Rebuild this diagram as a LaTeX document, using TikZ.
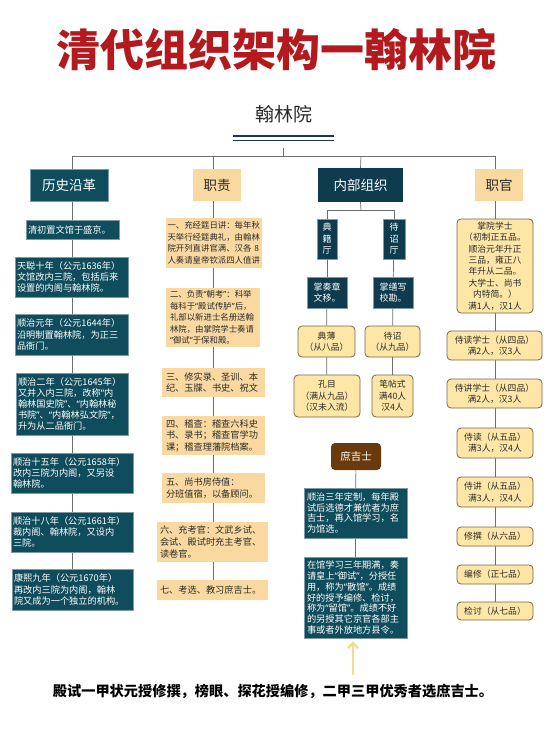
\documentclass[tikz,border=0pt]{standalone}
\usepackage{fontspec}
\setmainfont{Noto Sans CJK SC}
\newfontfamily\latinq{Noto Sans}
\newcommand\qL{{\latinq “}}
\newcommand\qR{{\latinq ”}}
\usetikzlibrary{arrows.meta,backgrounds}
\definecolor{tealA}{HTML}{0F4C5C}
\definecolor{tealEdge}{HTML}{7E9AA4}
\definecolor{navyA}{HTML}{0E3B4D}
\definecolor{peach}{HTML}{FAD9A1}
\definecolor{creamA}{HTML}{FEE6A6}
\definecolor{creamEdge}{HTML}{7A6645}
\definecolor{brownA}{HTML}{6B3A0C}
\definecolor{titleRed}{HTML}{B3191D}
\definecolor{lineGray}{HTML}{6E6E6E}
\definecolor{txtDark}{HTML}{2B2B2B}
\definecolor{dlNavy}{HTML}{1F3559}
\definecolor{arrowYellow}{HTML}{F1DD8F}
\begin{document}
\begin{tikzpicture}[x=1pt,y=-1pt,
  conn/.style={draw=lineGray,line width=0.7pt},
  headbox/.style={inner sep=0pt,font=\fontsize{13.5}{16}\selectfont,align=center},
  tealbox/.style={fill=tealA,draw=tealEdge,line width=0.5pt,text=white,inner sep=0pt,align=left,font=\fontsize{9.2}{11.2}\selectfont},
  peachbox/.style={fill=peach,text=txtDark,inner sep=0pt,align=left,font=\fontsize{9.2}{11.6}\selectfont},
  navybox/.style={fill=navyA,draw=tealEdge,line width=0.5pt,text=white,inner sep=0pt,align=center,font=\fontsize{9}{11.5}\selectfont},
  creambox/.style={fill=creamA,draw=creamEdge,line width=0.8pt,rounded corners=4pt,text=txtDark,inner sep=0pt,align=center,font=\fontsize{8.8}{11.4}\selectfont},
  brownbox/.style={fill=brownA,rounded corners=4pt,text=white,inner sep=0pt,align=center,font=\fontsize{10.5}{12}\selectfont},
  yarrow/.style={draw=arrowYellow,line width=2.6pt,-{Straight Barb[length=5pt,width=10pt]}}
]
\useasboundingbox (0,0) rectangle (553,738);
\begin{scope}[on background layer]
\fill[white] (0,0) rectangle (553,738);
\end{scope}

% title
\node[text=titleRed,font=\fontsize{44}{50}\selectfont\bfseries,inner sep=0pt] (title) at (276,50) {清代组织架构一翰林院};
\node[text=txtDark,font=\fontsize{19}{22}\selectfont,inner sep=0pt] (root) at (283.5,114) {翰林院};
\draw[dlNavy,line width=1.6pt] (233,136) -- (334,136);
\draw[dlNavy,line width=1.6pt] (233,140.5) -- (334,140.5);
\coordinate (dlb) at (283,148);
\coordinate (fork) at (283,156);
\coordinate (t1) at (72,156);
\coordinate (t2) at (213,156);
\coordinate (t3) at (361,156);
\coordinate (t4) at (495,156);

% headings
\node[headbox,fill=tealA,draw=tealEdge,line width=0.5pt,text=white,minimum width=78pt,minimum height=32pt] (h1) at (69,185) {历史沿革};
\node[headbox,fill=peach,text=txtDark,minimum width=48pt,minimum height=32pt] (h2) at (217,185) {职责};
\node[headbox,fill=navyA,text=white,minimum width=85pt,minimum height=34pt] (h3) at (360.5,185) {内部组织};
\node[headbox,fill=peach,text=txtDark,minimum width=48pt,minimum height=32pt] (h4) at (499,185) {职官};

% column 1
\node[tealbox,minimum width=93pt,minimum height=19pt,text width=89pt] (c1a) at (72.5,229.5) {清初置文馆于盛京。};
\node[tealbox,minimum width=113pt,minimum height=40pt,text width=109pt] (c1b) at (71.5,277) {天聪十年（公元1636年）\\文馆改内三院，包括后来\\设置的内阁与翰林院。};
\node[tealbox,minimum width=113pt,minimum height=41pt,text width=109pt] (c1c) at (71.5,334.5) {顺治元年（公元1644年）\\沿明制置翰林院，为正三\\品衙门。};
\node[tealbox,minimum width=112pt,minimum height=62pt,text width=108pt] (c1d) at (72,404) {顺治二年（公元1645年）\\又并入内三院，改称\qL 内\\翰林国史院\qR 、\qL 内翰林秘\\书院\qR 、\qL 内翰林弘文院\qR ，\\升为从二品衙门。};
\node[tealbox,minimum width=122pt,minimum height=40pt,text width=118pt] (c1e) at (72,473) {顺治十五年（公元1658年）\\改内三院为内阁，又另设\\翰林院。};
\node[tealbox,minimum width=122pt,minimum height=40pt,text width=118pt] (c1f) at (72,532) {顺治十八年（公元1661年）\\裁内阁、翰林院，又设内\\三院。};
\node[tealbox,minimum width=121pt,minimum height=41pt,text width=117pt] (c1g) at (72.5,589.5) {康熙九年（公元1670年）\\再改内三院为内阁，翰林\\院又成为一个独立的机构。};

% column 2
\node[peachbox,font=\fontsize{8.4}{11.6}\selectfont,minimum width=96pt,minimum height=50pt,text width=93pt] (c2a) at (214,243) {一、充经筵日讲：每年秋\\天举行经筵典礼，由翰林\\院开列直讲官满、汉各 8\\人奏请皇帝钦派四人值讲};
\node[peachbox,font=\fontsize{8.4}{11.6}\selectfont,minimum width=94pt,minimum height=59pt,text width=86pt] (c2b) at (213,317.5) {二、负责\qL 朝考\qR ：科举\\每科于\qL 殿试传胪\qR 后，\\礼部以新进士名册送翰\\林院，由掌院学士奏请\\\qL 御试\qR 于保和殿。};
\node[peachbox,minimum width=103pt,minimum height=29pt,text width=95pt] (c2c) at (213.5,382.5) {三、修实录、圣训、本\\纪、玉牒、书史、祝文};
\node[peachbox,minimum width=103pt,minimum height=39pt,text width=95pt] (c2d) at (213.5,435.5) {四、稽查：稽查六科史\\书、录书；稽查官学功\\课；稽查理藩院档案。};
\node[peachbox,minimum width=103pt,minimum height=30pt,text width=95pt] (c2e) at (213.5,488) {五、尚书房侍值：\\分班值宿，以备顾问。};
\node[peachbox,minimum width=111pt,minimum height=40pt,text width=105pt] (c2f) at (212.5,542) {六、充考官：文武乡试、\\会试、殿试时充主考官、\\读卷官。};
\node[peachbox,minimum width=111pt,minimum height=20pt,text width=105pt] (c2g) at (212.5,590) {七、考选、教习庶吉士。};

% column 3
\coordinate (f3) at (361,210);
\node[navybox,minimum width=20pt,minimum height=40pt,text width=12pt] (d1) at (327,239) {典\\籍\\厅};
\node[navybox,minimum width=22pt,minimum height=40pt,text width=12pt] (d2) at (394,239) {待\\诏\\厅};
\node[navybox,minimum width=40pt,minimum height=31pt,text width=36pt] (d3) at (327,292.5) {掌奏章\\文移。};
\node[navybox,minimum width=40pt,minimum height=31pt,text width=36pt] (d4) at (393,292.5) {掌缮写\\校勘。};
\node[creambox,minimum width=57pt,minimum height=31pt,text width=53pt] (d5) at (326.5,341.5) {典薄\\（从八品）};
\node[creambox,minimum width=55pt,minimum height=31pt,text width=51pt] (d6) at (392.5,341.5) {待诏\\（从九品）};
\node[creambox,minimum width=66pt,minimum height=42pt,text width=62pt] (d7) at (327,396) {孔目\\（满从九品）\\（汉未入流）};
\node[creambox,minimum width=41pt,minimum height=42pt,text width=37pt] (d8) at (392.5,396) {笔帖式\\满40人\\汉4人};

\node[brownbox,minimum width=50pt,minimum height=27pt] (s0) at (356,456.5) {庶吉士};
\node[tealbox,font=\fontsize{9.2}{10.8}\selectfont,minimum width=103pt,minimum height=50pt,text width=97pt] (s1) at (355.5,513) {顺治三年定制，每年殿\\试后选德才兼优者为庶\\吉士，再入馆学习，名\\为馆选。};
\node[tealbox,font=\fontsize{9.2}{10.8}\selectfont,minimum width=103pt,minimum height=81pt,text width=97pt] (s2) at (355.5,597.5) {在馆学习三年期满，奏\\请皇上\qL 御试\qR ，分授任\\用，称为\qL 散馆\qR 。成绩\\好的授予编修、检讨，\\称为\qL 留馆\qR 。成绩不好\\的另授其它京官各部主\\事或者外放地方县令。};

% column 4
\node[creambox,minimum width=76pt,minimum height=94pt,text width=72pt] (e1) at (495,266) {掌院学士\\（初制正五品。\\顺治元年升正\\三品，雍正八\\年升从二品。\\大学士、尚书\\内特简。）\\满1人，汉1人};
\node[creambox,minimum width=95pt,minimum height=29pt,text width=91pt] (e2) at (494.5,345.5) {侍读学士（从四品）\\满2人，汉3人};
\node[creambox,minimum width=95pt,minimum height=29pt,text width=91pt] (e3) at (494.5,393.5) {侍讲学士（从四品）\\满2人，汉3人};
\node[creambox,minimum width=76pt,minimum height=30pt,text width=72pt] (e4) at (495,443) {侍读（从五品）\\满3人，汉4人};
\node[creambox,minimum width=76pt,minimum height=30pt,text width=72pt] (e5) at (495,492) {侍讲（从五品）\\满3人，汉4人};
\node[creambox,minimum width=76pt,minimum height=19pt,text width=72pt] (e6) at (495,536.5) {修撰（从六品）};
\node[creambox,minimum width=76pt,minimum height=19pt,text width=72pt] (e7) at (495,574.5) {编修（正七品）};
\node[creambox,minimum width=76pt,minimum height=18pt,text width=72pt] (e8) at (495,611) {检讨（从七品）};

% bottom note
\node[text=black,font=\fontsize{14.2}{16}\selectfont\bfseries,inner sep=0pt] (note) at (273,691) {殿试一甲状元授修撰，榜眼、探花授编修，二甲三甲优秀者选庶吉士。};
\coordinate (arrbase) at (353,675);
\draw[yarrow,shorten >=3pt] (arrbase) -- (arrbase |- s2.south);

\begin{scope}[on background layer]
\draw[conn] (dlb) -- (fork);
\draw[conn] (t1) -- (t4);
\draw[conn] (t1) -- (t1 |- h1.north);
\draw[conn] (t2) -- (t2 |- h2.north);
\draw[conn] (t3) -- (h3.north);
\draw[conn] (t4) -- (t4 |- h4.north);
% col 1 spine
\draw[conn] (t1 |- h1.south) -- (t1 |- c1g.north);
% col 2 spine
\draw[conn] (t2 |- h2.south) -- (t2 |- c2g.north);
% col 3
\draw[conn] (h3.south) -- (f3);
\draw[conn] (f3) -| (d1.north);
\draw[conn] (f3) -| (d2.north);
\draw[conn] (d1) -- (d3);
\draw[conn] (d3) -- (d5);
\draw[conn] (d5) -- (d7);
\draw[conn] (d2) -- (d4);
\draw[conn] (d4) -- (d6);
\draw[conn] (d6) -- (d8);
\draw[conn] (s0) -- (s1);
\draw[conn] (s1) -- (s2);
% col 4 spine
\draw[conn] (t4 |- h4.south) -- (t4 |- e8.north);
\end{scope}
\end{tikzpicture}
\end{document}
